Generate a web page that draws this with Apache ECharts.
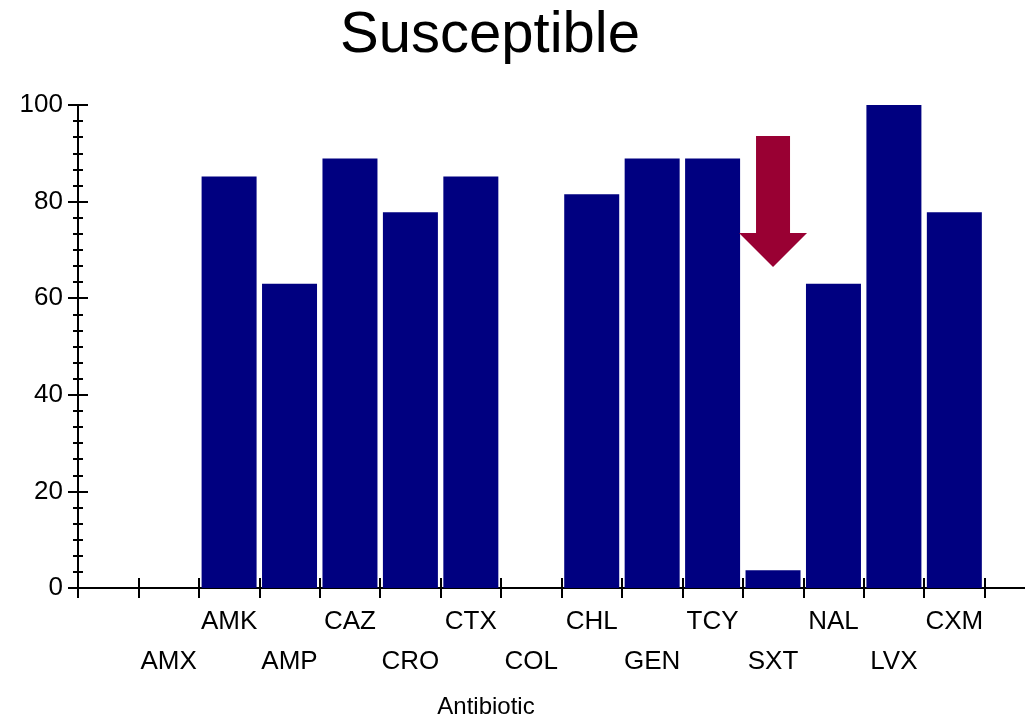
<!DOCTYPE html>
<html>
<head>
<meta charset="utf-8">
<script src="https://cdn.jsdelivr.net/npm/echarts@6/dist/echarts.min.js"></script>
<style>
  html, body { margin: 0; padding: 0; background: #fff; }
  #chart { width: 1025px; height: 719px; }
</style>
</head>
<body>
<div id="chart"></div>
<script>
// antibiotics, with an empty slot at each end of the axis
var antibiotics = ['', 'AMX', 'AMK', 'AMP', 'CAZ', 'CRO', 'CTX', 'COL', 'CHL', 'GEN', 'TCY', 'SXT', 'NAL', 'LVX', 'CXM', ''];
var susceptible = [null, null, 85.2, 63, 88.9, 77.8, 85.2, 0, 81.5, 88.9, 88.9, 3.7, 63, 100, 77.8, null];
var yTicks = [0, 20, 40, 60, 80, 100];
var arrowAt = ['SXT', 80];

var font = "'Liberation Sans', Arial, sans-serif";
var chart = echarts.init(document.getElementById('chart'));

var option = {
    animation: false,
    backgroundColor: '#fff',
    title: [
        {
            text: 'Susceptible',
            left: 485,
            top: 2,
            textAlign: 'center',
            textStyle: { fontFamily: font, fontSize: 58, fontWeight: 'normal', color: '#000' }
        },
        {
            text: 'Antibiotic',
            left: 481,
            top: 690,
            textAlign: 'center',
            textStyle: { fontFamily: font, fontSize: 24, fontWeight: 'normal', color: '#000' }
        }
    ],
    grid: { left: 78, top: 105, right: -20, bottom: 131, containLabel: false, outerBoundsMode: 'none' },
    xAxis: [
        {
            type: 'category',
            position: 'bottom',
            data: antibiotics,
            axisLine: { lineStyle: { color: '#000', width: 2 } },
            axisTick: { show: true, interval: 0, length: 10, lineStyle: { color: '#000', width: 2 } },
            axisLabel: {
                interval: 0,
                margin: 14,
                color: '#000',
                fontFamily: font,
                fontSize: 26,
                lineHeight: 40,
                formatter: function (v, i) {
                    return i % 2 === 1 ? '\n' + v : v;
                }
            },
            splitLine: { show: false }
        },
        {
            type: 'category',
            position: 'bottom',
            data: antibiotics,
            axisLine: { show: false },
            axisTick: { show: true, inside: true, interval: 0, length: 10, lineStyle: { color: '#000', width: 2 } },
            axisLabel: { show: false },
            splitLine: { show: false }
        }
    ],
    yAxis: [
        {
            type: 'value',
            position: 'left',
            min: yTicks[0],
            max: yTicks[yTicks.length - 1],
            interval: 20,
            axisLine: { show: true, lineStyle: { color: '#000', width: 2 } },
            axisTick: { show: true, length: 10, lineStyle: { color: '#000', width: 2 } },
            minorTick: { show: true, splitNumber: 6, length: 5, lineStyle: { color: '#000', width: 2 } },
            axisLabel: { margin: 15, color: '#000', fontFamily: font, fontSize: 26 },
            splitLine: { show: false }
        },
        {
            type: 'value',
            position: 'left',
            min: yTicks[0],
            max: yTicks[yTicks.length - 1],
            interval: 20,
            axisLine: { show: false },
            axisTick: { show: true, inside: true, length: 10, lineStyle: { color: '#000', width: 2 } },
            minorTick: { show: true, splitNumber: 6, length: 5, lineStyle: { color: '#000', width: 2 } },
            axisLabel: { show: false },
            splitLine: { show: false }
        }
    ],
    series: [
        {
            name: 'Susceptible',
            type: 'bar',
            data: susceptible,
            barCategoryGap: '9%',
            itemStyle: { color: '#000080' },
            markPoint: {
                symbol: 'path://M17,0 L51,0 L51,97 L68,97 L34,131 L0,97 L17,97 Z',
                symbolSize: [68, 131],
                label: { show: false },
                itemStyle: { color: '#990033' },
                data: [{ coord: arrowAt }]
            }
        }
    ]
};

chart.setOption(option);
window.addEventListener('resize', function () {
    chart.resize();
});
</script>
</body>
</html>
